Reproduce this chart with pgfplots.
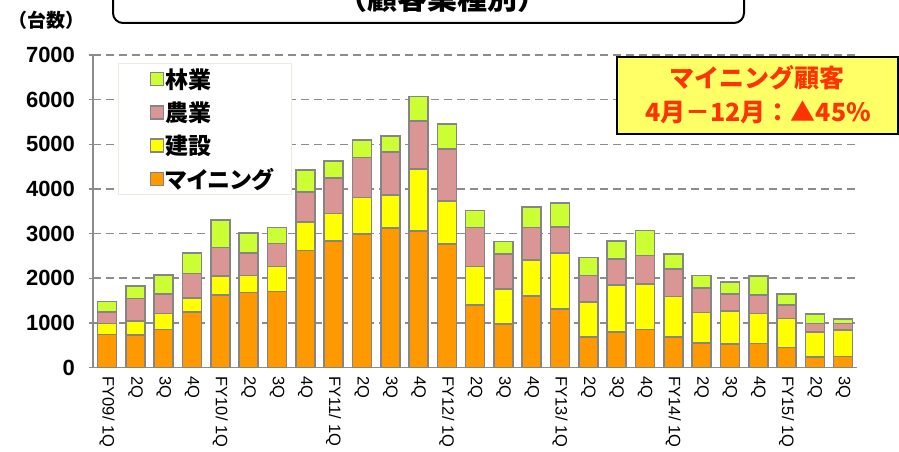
\documentclass[border=0pt]{standalone}
\usepackage{pgfplots}
\pgfplotsset{compat=1.18}
\usepackage{pgfplotstable}
\usepackage{fontspec}
\setmainfont{Liberation Sans}
\newfontfamily\jp{Noto Sans CJK JP}
\newfontfamily\jpp{Noto Sans CJK JP}[RawFeature=+palt]
\definecolor{cMin}{HTML}{FF9900}
\definecolor{cCon}{HTML}{FFFF00}
\definecolor{cAgr}{HTML}{DA9694}
\definecolor{cFor}{HTML}{CCFF33}
\definecolor{edgegray}{HTML}{858585}
\definecolor{axgray}{HTML}{8C8C8C}
\definecolor{gridgray}{HTML}{8C8C8C}
\definecolor{legbord}{HTML}{EDEAE0}
\definecolor{annyellow}{HTML}{FFFF66}
\definecolor{annred}{HTML}{FF3300}
\pgfplotstableread{
x  min  con  agr  for
0  740  250  250  240
1  725  320  500  280
2  850  360  430  430
3  1250 310  550  450
4  1620 430  640  610
5  1680 380  500  450
6  1700 560  520  360
7  2620 640  670  500
8  2840 610  800  380
9  2990 820  890  400
10 3130 730  970  350
11 3060 1380 1080 550
12 2760 970  1170 560
13 1400 860  880  380
14 970  790  780  280
15 1600 810  730  460
16 1310 1260 580  540
17 690  780  590  400
18 790  1060 580  410
19 850  1020 640  560
20 690  900  610  340
21 550  680  550  280
22 520  750  370  270
23 540  670  410  430
24 450  650  300  240
25 240  550  200  210
26 250  590  150  90
}\data
\newcommand{\fy}[1]{FY#1/\hspace{5pt}1Q}
\begin{document}
\begin{tikzpicture}[x=1pt,y=1pt]
\useasboundingbox (0,0) rectangle (899,451);
\draw[line width=2pt, rounded corners=10pt] (113,428) rectangle (744,490);
\node[anchor=base, font=\jp\bfseries\fontsize{30}{30}\selectfont] at (442,441) {（顧客業種別）};
\node[anchor=west, font=\jp\bfseries\fontsize{19}{19}\selectfont, inner sep=0pt] at (8,431) {（台数）};
\begin{axis}[
  at={(93pt,83.5pt)}, anchor=south west,
  scale only axis, width=764.3pt, height=312.5pt,
  xmin=-0.5, xmax=26.5, ymin=0, ymax=7000,
  ybar stacked, bar width=19pt,
  axis x line*=bottom, axis y line*=left,
  axis line style={draw=axgray, line width=1.6pt, -},
  ytick={0,1000,...,7000},
  ymajorgrids,
  grid style={draw=gridgray, line width=1.5pt, dash pattern=on 8pt off 5pt},
  tick align=center, major tick length=9pt,
  y tick style={draw=axgray, line width=1.4pt},
  x tick style={draw=none},
  xtick=data,
  xticklabels={\fy{09},2Q,3Q,4Q,\fy{10},2Q,3Q,4Q,\fy{11},2Q,3Q,4Q,\fy{12},2Q,3Q,4Q,\fy{13},2Q,3Q,4Q,\fy{14},2Q,3Q,4Q,\fy{15},2Q,3Q},
  xticklabel style={rotate=-90, anchor=west, inner sep=4.5pt, font=\fontsize{16.5}{16.5}\selectfont},
  yticklabel style={font=\bfseries\fontsize{22}{22}\selectfont, xshift=-10pt},
  scaled y ticks=false,
  /pgf/number format/assume math mode=true,
  /pgf/number format/set thousands separator={},
  every axis plot/.append style={draw=edgegray, line width=1.6pt},
  reverse legend,
  legend style={at={(0.0327,0.974)}, anchor=north west, draw=legbord, line width=1.2pt, fill=white,
    inner xsep=16pt, inner ysep=3pt, row sep=8pt,
    font=\jpp\bfseries\fontsize{23}{23}\selectfont, cells={anchor=west},
    /tikz/every even column/.append style={column sep=6pt}},
  legend image code/.code={\path (0pt,0pt); \draw[#1, draw=edgegray, line width=1.2pt] (15pt,-6.5pt) rectangle (28pt,6.5pt);},
]
\addplot[fill=cMin] table[x=x, y=min] {\data};
\addplot[fill=cCon] table[x=x, y=con] {\data};
\addplot[fill=cAgr] table[x=x, y=agr] {\data};
\addplot[fill=cFor] table[x=x, y=for] {\data};
\legend{マイニング,建設,農業,林業}
\end{axis}
\draw[line width=2pt, fill=annyellow] (617,317) rectangle (898,394);
\node[font=\jp\bfseries\fontsize{25}{25}\selectfont, text=annred] at (757,373) {マイニング顧客};
\node[font=\jp\bfseries\fontsize{25}{25}\selectfont, text=annred] at (758,339) {4月－12月：▲45\%};
\end{tikzpicture}
\end{document}
